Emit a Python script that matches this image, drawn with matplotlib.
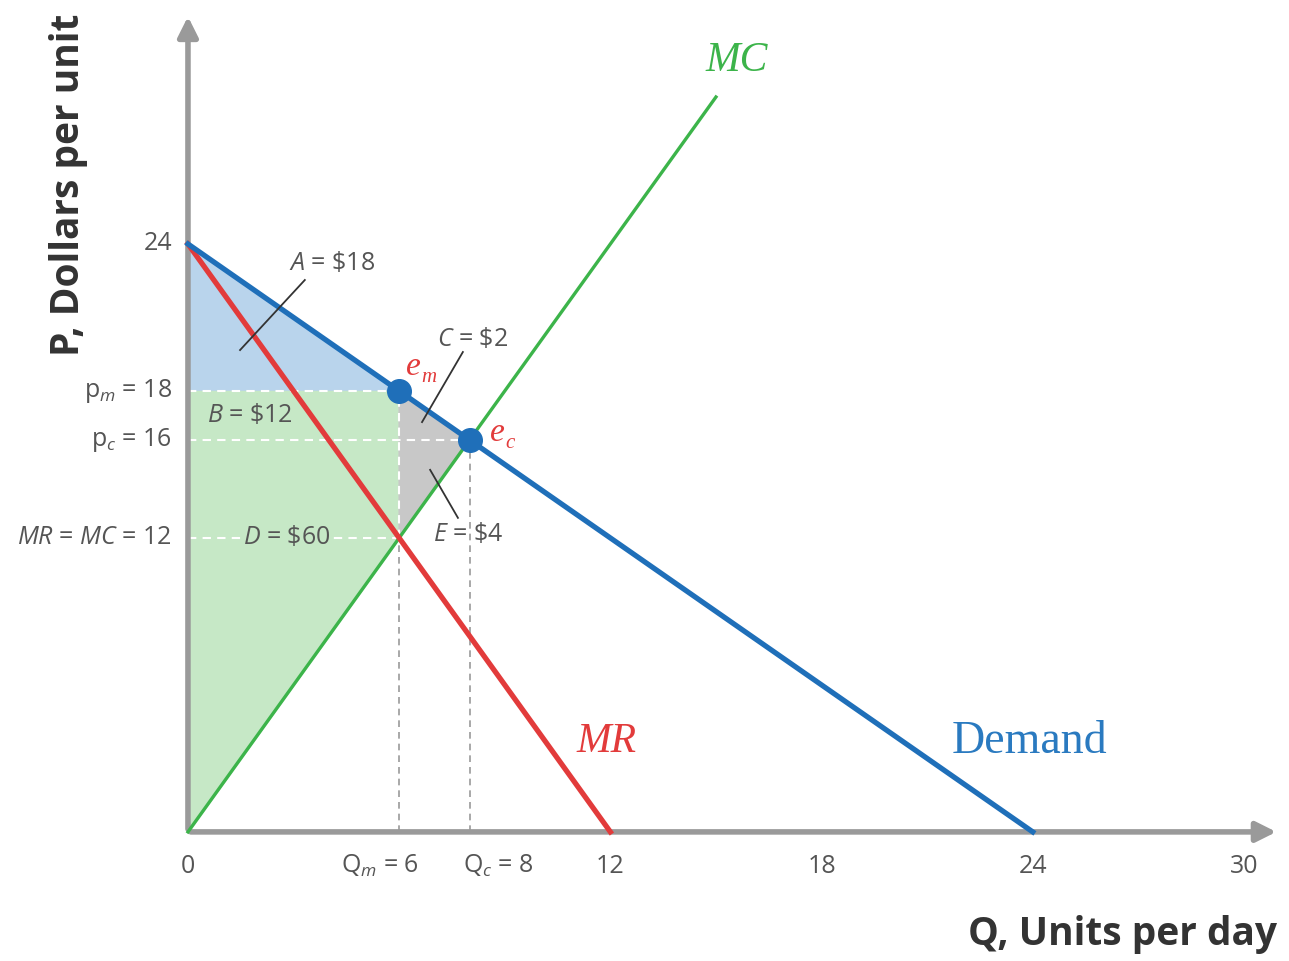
import numpy as np
import matplotlib
matplotlib.use("Agg")
import matplotlib.pyplot as plt

plt.rcParams['font.family'] = ['Open Sans', 'DejaVu Sans']
plt.rcParams['mathtext.fontset'] = 'custom'
plt.rcParams['mathtext.rm'] = 'Open Sans'
plt.rcParams['mathtext.it'] = 'Open Sans:italic'

# curves
demand_q = [0, 24]
demand_p = [24, 0]
mr_q = [0, 12]
mr_p = [24, 0]
mc_q = [0, 15]
mc_p = [0, 30]

# equilibrium points
q_m, p_m = 6, 18
q_c, p_c = 8, 16
mr_mc = 12

x_ticks = [0, 6, 8, 12, 18, 24, 30]
x_labels = ['0', r'Q$_m$ = 6', r'Q$_c$ = 8', '12', '18', '24', '30']
y_ticks = [24, 18, 16, 12]
y_labels = ['24', r'p$_m$ = 18', r'p$_c$ = 16', r'$MR$ = $MC$ = 12']

blue = '#1f6fb9'
red = '#e23b3b'
green = '#3cb44a'
axis_gray = '#9a9a9a'
txt = '#555555'

fig = plt.figure(figsize=(12.89, 9.61), dpi=100)
ax = fig.add_axes([0, 0, 1, 1])
ax.set_xlim(-5.34, 31.28)
ax.set_ylim(-5.27, 33.96)
ax.axis('off')

# shaded areas
ax.fill([0, 0, q_m], [24, p_m, p_m], color='#b9d4ec', zorder=1)
ax.fill([0, 0, q_m, q_m], [0, p_m, p_m, mr_mc], color='#c6e8c6', zorder=1)
ax.fill([q_m, q_c, q_m], [p_m, p_c, mr_mc], color='#c8c8c8', zorder=1)

# dashed guides
ax.plot([q_m, q_m], [0, mr_mc], color='#999999', ls=(0, (4, 3)), lw=1.2, zorder=2)
ax.plot([q_c, q_c], [0, p_c], color='#999999', ls=(0, (4, 3)), lw=1.2, zorder=2)
ax.plot([q_m, q_m], [mr_mc, p_m], color='white', ls=(0, (4, 3)), lw=1.5, zorder=2)
ax.plot([0, q_m], [p_m, p_m], color='white', ls=(0, (4, 3)), lw=1.5, zorder=2)
ax.plot([0, q_c], [p_c, p_c], color='white', ls=(0, (4, 3)), lw=1.5, zorder=2)
ax.plot([0, q_m], [mr_mc, mr_mc], color='white', ls=(0, (4, 3)), lw=1.5, zorder=2)

# axes with arrows
ax.annotate('', xy=(31.0, 0), xytext=(0, 0),
            arrowprops=dict(arrowstyle='-|>,head_length=1.2,head_width=0.6', color=axis_gray, lw=4), zorder=3)
ax.annotate('', xy=(0, 33.4), xytext=(0, 0),
            arrowprops=dict(arrowstyle='-|>,head_length=1.2,head_width=0.6', color=axis_gray, lw=4), zorder=3)

# curves
ax.plot(mc_q, mc_p, color=green, lw=2.4, zorder=4)
ax.plot(mr_q, mr_p, color=red, lw=3.8, zorder=5)
ax.plot(demand_q, demand_p, color=blue, lw=3.8, zorder=6)
ax.plot([q_m, q_c], [p_m, p_c], 'o', color=blue, ms=17, zorder=7)

# leader lines
ax.plot([1.48, 3.32], [19.67, 22.53], color='#333333', lw=1.3, zorder=8)
ax.plot([6.65, 7.81], [16.73, 19.59], color='#333333', lw=1.3, zorder=8)
ax.plot([6.88, 7.67], [14.78, 12.82], color='#333333', lw=1.3, zorder=8)

# area labels
fs = 18
ax.text(4.1, 23.2, r'$A$ = \$18', fontsize=fs, color=txt, ha='center', va='center', zorder=9)
ax.text(1.75, 17.0, r'$B$ = \$12', fontsize=fs, color=txt, ha='center', va='center', zorder=9)
ax.text(8.08, 20.1, r'$C$ = \$2', fontsize=fs, color=txt, ha='center', va='center', zorder=9)
ax.text(2.8, 12.0, r'$D$ = \$60', fontsize=fs, color=txt, ha='center', va='center', zorder=9,
        bbox=dict(facecolor='#c6e8c6', edgecolor='none', pad=1))
ax.text(7.95, 12.15, r'$E$ = \$4', fontsize=fs, color=txt, ha='center', va='center', zorder=9)

# point labels (serif italic e with small subscript)
serif = ['Liberation Serif', 'DejaVu Serif']
ax.text(6.4, 19.0, 'e', fontsize=24, color=red, style='italic', family=serif,
        ha='center', va='center', zorder=9)
ax.text(6.62, 18.55, 'm', fontsize=15, color=red, style='italic', family=serif,
        ha='left', va='center', zorder=9)
ax.text(8.8, 16.3, 'e', fontsize=24, color=red, style='italic', family=serif,
        ha='center', va='center', zorder=9)
ax.text(9.02, 15.85, 'c', fontsize=15, color=red, style='italic', family=serif,
        ha='left', va='center', zorder=9)

# curve labels
ax.text(15.6, 31.5, 'MC', fontsize=30, color=green, style='italic', family=serif, ha='center', va='center')
ax.text(11.9, 3.7, 'MR', fontsize=30, color=red, style='italic', family=serif, ha='center', va='center')
ax.text(23.9, 3.7, 'Demand', fontsize=33, color='#2a7ac0', family=serif, ha='center', va='center')

# tick labels
for xv, lab in zip(x_ticks, x_labels):
    if xv == q_m:
        ax.text(xv + 0.55, -1.4, lab, fontsize=fs, color=txt, ha='right', va='center')
    elif xv == q_c:
        ax.text(xv - 0.2, -1.4, lab, fontsize=fs, color=txt, ha='left', va='center')
    else:
        ax.text(xv, -1.4, lab, fontsize=fs, color=txt, ha='center', va='center')
for yv, lab in zip(y_ticks, y_labels):
    ax.text(-0.45, yv, lab, fontsize=fs, color=txt, ha='right', va='center')

# axis titles
ax.text(-3.4, 33.4, 'P, Dollars per unit', fontsize=28, fontweight='bold', color='#333333',
        rotation=90, ha='center', va='top')
ax.text(30.95, -4.2, 'Q, Units per day', fontsize=28, fontweight='bold', color='#333333',
        ha='right', va='center')

fig.savefig('out.png', dpi=100, facecolor='white')
